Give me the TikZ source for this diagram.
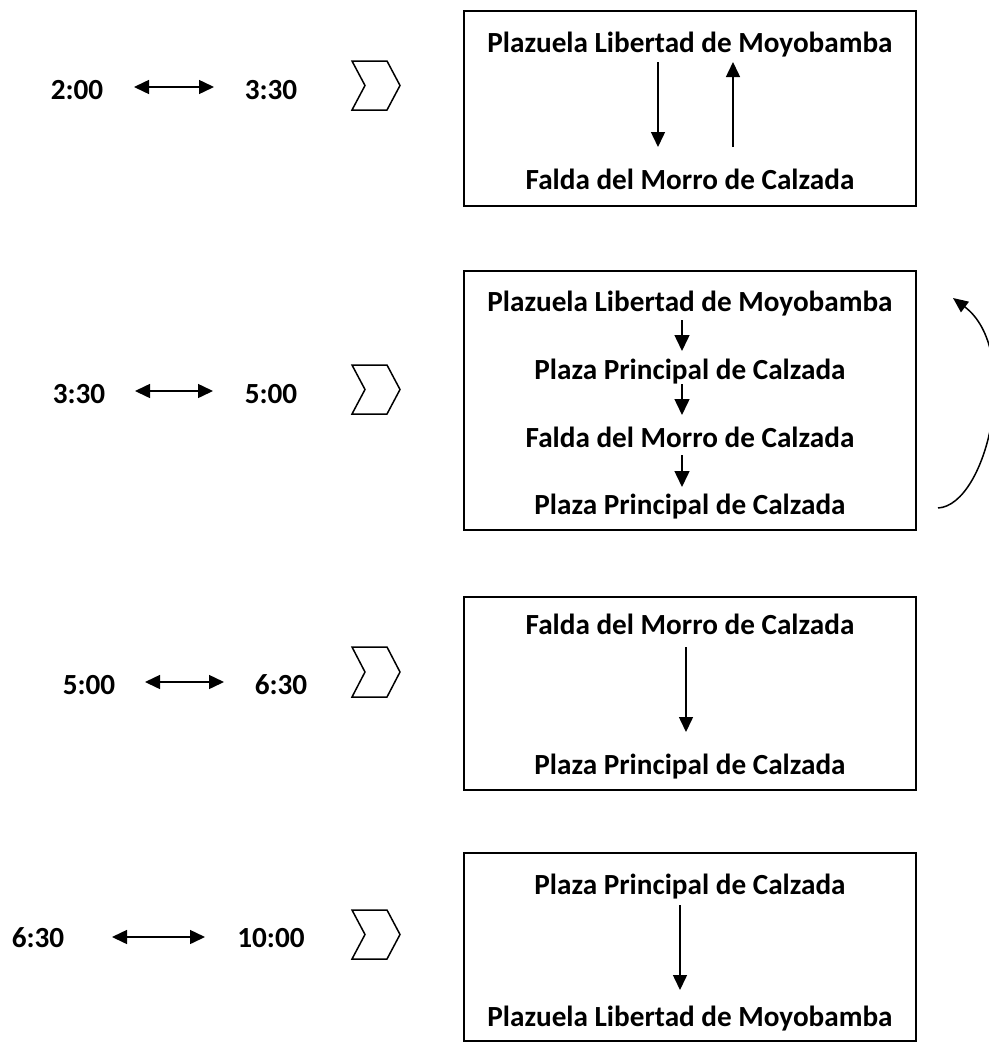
\documentclass[tikz,border=0pt]{standalone}
\usepackage{fontspec}
\setmainfont{Carlito}
\usetikzlibrary{arrows.meta}
\begin{document}
\begin{tikzpicture}[x=1pt,y=-1pt,
  lbl/.style={font=\fontsize{29.2}{35}\selectfont\bfseries, inner sep=0pt, anchor=base},
  frame/.style={draw, line width=2.2pt, minimum width=452pt, minimum height=#1, inner sep=0pt},
  conn/.style={line width=1.5pt, -{Triangle[width=14pt,length=15pt]}},
  sconn/.style={line width=1.5pt, -{Triangle[width=15pt,length=16pt]}},
  dconn/.style={line width=1.5pt, {Triangle[width=14pt,length=15pt]}-{Triangle[width=14pt,length=15pt]}},
  curv/.style={line width=1.5pt, -{Triangle[width=13pt,length=15pt]}},
  chev/.style={line width=1.5pt, line join=miter}]
\useasboundingbox (0,0) rectangle (988,1044);

% ---------- Row 1 ----------
\node[lbl] (t1a) at (77,99) {2:00};
\node[lbl] (t1b) at (271,99) {3:30};
\coordinate (a1s) at (134,87); \coordinate (a1e) at (214,87);
\draw[dconn] (a1s) -- (a1e);
\draw[chev] (352,61) -- (387,61) -- (400,85.5) -- (387,110) -- (352,110) -- (365,85.5) -- cycle;

\node[frame=195pt] (box1) at (690,108.5) {};
\node[lbl] (b1a) at (690,52) {Plazuela Libertad de Moyobamba};
\node[lbl] (b1b) at (690,189) {Falda del Morro de Calzada};
\coordinate (d1s) at (658,62); \coordinate (d1e) at (658,147);
\draw[conn] (d1s) -- (d1e);
\coordinate (u1s) at (733,147); \coordinate (u1e) at (733,62);
\draw[conn] (u1s) -- (u1e);

% ---------- Row 2 ----------
\node[lbl] (t2a) at (79,403) {3:30};
\node[lbl] (t2b) at (271,403) {5:00};
\coordinate (a2s) at (135,391); \coordinate (a2e) at (213,391);
\draw[dconn] (a2s) -- (a2e);
\draw[chev] (352,365) -- (387,365) -- (400,389.5) -- (387,414) -- (352,414) -- (365,389.5) -- cycle;

\node[frame=259pt] (box2) at (690,400.5) {};
\node[lbl] (b2a) at (690,311) {Plazuela Libertad de Moyobamba};
\node[lbl] (b2b) at (690,379) {Plaza Principal de Calzada};
\node[lbl] (b2c) at (690,447) {Falda del Morro de Calzada};
\node[lbl] (b2d) at (690,514) {Plaza Principal de Calzada};
\coordinate (s1s) at (682,320); \coordinate (s1e) at (682,351);
\coordinate (s2s) at (682,384); \coordinate (s2e) at (682,415);
\coordinate (s3s) at (682,455); \coordinate (s3e) at (682,487);
\draw[sconn] (s1s) -- (s1e);
\draw[sconn] (s2s) -- (s2e);
\draw[sconn] (s3s) -- (s3e);
\coordinate (cs) at (938,508); \coordinate (ce) at (953,298);
\draw[curv] (cs) .. controls (988,505) and (1022,350) .. (ce);

% ---------- Row 3 ----------
\node[lbl] (t3a) at (89,694) {5:00};
\node[lbl] (t3b) at (281,694) {6:30};
\coordinate (a3s) at (145,682); \coordinate (a3e) at (224,682);
\draw[dconn] (a3s) -- (a3e);
\draw[chev] (352,647) -- (387,647) -- (400,672) -- (387,697) -- (352,697) -- (365,672) -- cycle;

\node[frame=193pt] (box3) at (690,693.5) {};
\node[lbl] (b3a) at (690,634) {Falda del Morro de Calzada};
\node[lbl] (b3b) at (690,774) {Plaza Principal de Calzada};
\coordinate (d3s) at (686,647); \coordinate (d3e) at (686,732);
\draw[conn] (d3s) -- (d3e);

% ---------- Row 4 ----------
\node[lbl] (t4a) at (38,947) {6:30};
\node[lbl] (t4b) at (271,947) {10:00};
\coordinate (a4s) at (112,937); \coordinate (a4e) at (205,937);
\draw[dconn] (a4s) -- (a4e);
\draw[chev] (352,910) -- (387,910) -- (400,934.5) -- (387,959) -- (352,959) -- (365,934.5) -- cycle;

\node[frame=188pt] (box4) at (690,947) {};
\node[lbl] (b4a) at (690,894) {Plaza Principal de Calzada};
\node[lbl] (b4b) at (690,1026) {Plazuela Libertad de Moyobamba};
\coordinate (d4s) at (680,905); \coordinate (d4e) at (680,990);
\draw[conn] (d4s) -- (d4e);
\end{tikzpicture}
\end{document}
